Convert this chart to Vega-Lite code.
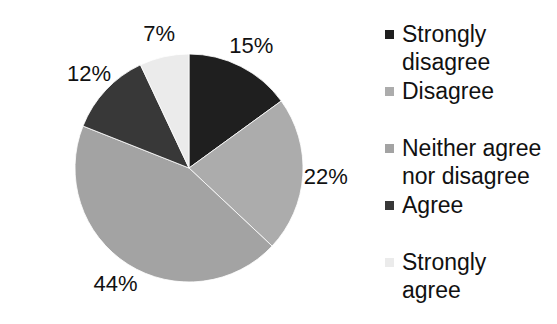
{
  "$schema": "https://vega.github.io/schema/vega-lite/v6.json",
  "width": 228,
  "height": 228,
  "autosize": "none",
  "padding": {"left": 75, "top": 54, "right": 254, "bottom": 42},
  "background": "#ffffff",
  "config": {
    "style": {"guide-label": {"lineHeight": 28, "dy": 7}}
  },
  "data": {
    "values": [
      {"category": "Strongly disagree", "share": 0.15, "rank": 1},
      {"category": "Disagree", "share": 0.22, "rank": 2},
      {"category": "Neither agree nor disagree", "share": 0.44, "rank": 3},
      {"category": "Agree", "share": 0.12, "rank": 4},
      {"category": "Strongly agree", "share": 0.07, "rank": 5}
    ]
  },
  "encoding": {
    "theta": {"field": "share", "type": "quantitative", "stack": true},
    "order": {"field": "rank", "type": "quantitative"}
  },
  "layer": [
    {
      "mark": {"type": "arc", "outerRadius": 114, "stroke": "#ffffff", "strokeWidth": 0.8},
      "encoding": {
        "color": {
          "field": "category",
          "type": "nominal",
          "scale": {
            "domain": ["Strongly disagree", "Disagree", "Neither agree nor disagree", "Agree", "Strongly agree"],
            "range": ["#1f1f1f", "#acacac", "#a3a3a3", "#383838", "#ebebeb"]
          },
          "legend": {
            "orient": "none",
            "legendX": 303,
            "legendY": -31,
            "title": null,
            "padding": 0,
            "symbolType": "square",
            "symbolSize": 81,
            "symbolStrokeWidth": 0,
            "labelFont": "Liberation Sans",
            "labelFontSize": 23,
            "labelColor": "#111111",
            "labelLimit": 300,
            "labelOffset": 1,
            "rowPadding": 5,
            "labelBaseline": "alphabetic",
            "labelExpr": "datum.label == 'Strongly disagree' ? ['Strongly', 'disagree'] : datum.label == 'Neither agree nor disagree' ? ['Neither agree', 'nor disagree'] : datum.label == 'Strongly agree' ? ['Strongly', 'agree'] : [datum.label, ' ']"
          }
        }
      }
    },
    {
      "mark": {"type": "text", "radius": 137, "font": "Liberation Sans", "fontSize": 22, "fill": "#111111"},
      "encoding": {
        "text": {"field": "share", "type": "quantitative", "format": ".0%"}
      }
    }
  ]
}
